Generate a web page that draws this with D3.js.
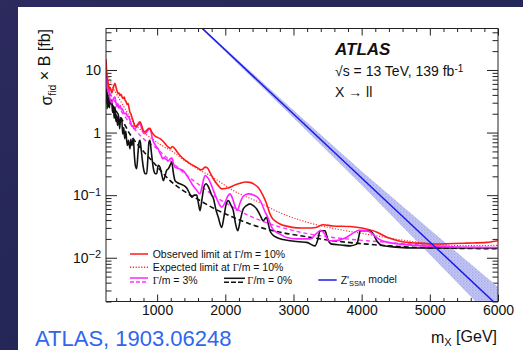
<!DOCTYPE html>
<html lang="en">
<head>
    <meta charset="UTF-8">
    <title>Dilepton resonance limits</title>
    <script src="https://d3js.org/d3.v7.min.js"></script>
    <style>
        body {
            margin: 0;
            padding: 0;
            background: #22244f;
            font-family: 'Liberation Sans', Arial, Helvetica, sans-serif;
        }
        svg { display: block; }
        .axis text { font-family: 'Liberation Sans', Arial, sans-serif; font-size: 14px; fill: #111; }
        .axis line { stroke: #222; }
    </style>
</head>
<body>
    <svg id="chart" width="523" height="350"></svg>

    <script>
        // ---- data: [mass in GeV, sigma x B in fb] ----
        const obs10 = [[250,14.9],[258,10],[265,8.2],[280,6.5],[295,5.0],[310,5.3],[334,4.3],[350,4.8],[365,5.6],[382,6.1],[395,5.4],[410,4.7],[426,4.2],[440,4.3],[455,3.9],[470,4.1],[490,3.6],[505,3.5],[518,3.7],[529,3.3],[545,3.1],[560,2.8],[575,2.9],[590,2.4],[602,2.1],[615,2.0],[630,1.75],[646,1.57],[660,1.4],[675,1.26],[690,1.25],[705,1.3],[725,1.4],[749,1.48],[770,1.32],[790,1.13],[805,1.05],[822,1.02],[840,1.07],[860,1.13],[880,1.17],[895,1.16],[915,1.05],[940,0.95],[970,0.88],[1000,0.84],[1042,0.80],[1080,0.74],[1120,0.66],[1160,0.59],[1195,0.56],[1225,0.6],[1255,0.56],[1300,0.48],[1336,0.43],[1400,0.37],[1440,0.345],[1482,0.32],[1550,0.29],[1600,0.27],[1640,0.255],[1670,0.26],[1702,0.28],[1735,0.275],[1780,0.225],[1824,0.183],[1890,0.145],[1947,0.126],[2000,0.128],[2069,0.134],[2140,0.145],[2216,0.155],[2300,0.162],[2360,0.16],[2420,0.15],[2484,0.132],[2550,0.100],[2607,0.0725],[2650,0.052],[2681,0.0442],[2740,0.038],[2802,0.0346],[2900,0.032],[3050,0.030],[3200,0.0298],[3330,0.0305],[3433,0.0337],[3580,0.0322],[3829,0.0315],[4020,0.0296],[4225,0.0256],[4372,0.0212],[4563,0.0184],[4812,0.0171],[5047,0.0166],[5546,0.0171],[5839,0.0176],[6000,0.0187]];

        const exp10 = [[250,9.5],[280,8.0],[309,6.9],[350,5.3],[400,4.2],[455,3.3],[550,2.2],[646,1.48],[760,1.1],[895,0.84],[1050,0.64],[1233,0.49],[1430,0.34],[1629,0.248],[1776,0.206],[1950,0.155],[2113,0.119],[2300,0.095],[2465,0.080],[2612,0.066],[2846,0.050],[3096,0.040],[3345,0.0335],[3580,0.0295],[4079,0.0237],[4563,0.0194],[5047,0.0166],[5546,0.0156],[6000,0.0158]];

        const obs3 = [[250,10.5],[256,6.5],[262,5.0],[270,6.8],[280,4.3],[292,5.6],[305,3.6],[320,3.2],[334,3.0],[350,3.3],[365,3.6],[382,3.7],[395,3.0],[410,2.6],[425,2.9],[440,2.5],[460,2.7],[475,2.3],[490,2.4],[510,2.1],[529,2.0],[545,2.05],[560,1.85],[580,1.8],[600,1.6],[615,1.4],[630,1.25],[645,1.3],[660,1.15],[680,1.17],[700,1.23],[725,1.33],[749,1.39],[770,1.2],[790,1.05],[805,0.97],[822,0.96],[840,1.0],[860,1.07],[880,1.14],[895,1.16],[915,0.98],[930,0.8],[960,0.67],[990,0.59],[1015,0.55],[1040,0.47],[1060,0.43],[1080,0.38],[1100,0.40],[1120,0.38],[1140,0.37],[1160,0.35],[1190,0.38],[1218,0.39],[1240,0.32],[1262,0.28],[1300,0.27],[1340,0.26],[1380,0.248],[1420,0.22],[1482,0.171],[1530,0.14],[1580,0.12],[1629,0.105],[1660,0.14],[1702,0.206],[1750,0.185],[1790,0.15],[1824,0.12],[1870,0.09],[1910,0.072],[1947,0.064],[1990,0.074],[2040,0.098],[2069,0.105],[2100,0.092],[2140,0.068],[2175,0.057],[2216,0.075],[2260,0.095],[2337,0.105],[2420,0.10],[2484,0.09],[2530,0.075],[2580,0.055],[2620,0.045],[2681,0.0305],[2740,0.026],[2802,0.0239],[2900,0.021],[3047,0.0200],[3250,0.0200],[3330,0.024],[3400,0.0275],[3460,0.024],[3520,0.0187],[3600,0.0187],[3750,0.0205],[3880,0.025],[3960,0.0275],[4080,0.027],[4160,0.024],[4220,0.021],[4300,0.0187],[4563,0.0165],[5047,0.0152],[5500,0.0147],[6000,0.0146]];

        const exp3 = [[250,7.0],[300,4.6],[400,2.9],[500,2.0],[650,1.2],[800,0.8],[1000,0.55],[1140,0.40],[1300,0.28],[1450,0.20],[1629,0.143],[1850,0.095],[2117,0.064],[2350,0.047],[2600,0.0364],[2850,0.030],[3100,0.0256],[3580,0.0211],[4080,0.0187],[4560,0.0170],[5050,0.0155],[5500,0.0148],[6000,0.0145]];

        const obs0 = [[250,6.0],[255,3.0],[260,5.4],[267,2.4],[275,4.2],[284,2.57],[292,3.6],[300,2.5],[310,3.4],[320,2.9],[334,3.3],[345,2.1],[358,2.6],[370,1.7],[382,2.57],[395,1.5],[407,1.9],[420,1.3],[435,1.9],[450,1.15],[465,1.7],[480,1.68],[495,0.95],[510,1.2],[525,0.8],[540,1.05],[553,0.75],[565,0.62],[580,0.75],[602,0.55],[615,0.78],[630,0.62],[651,0.8],[665,0.45],[680,0.30],[700,0.264],[718,0.45],[735,0.70],[749,0.75],[765,0.55],[785,0.35],[805,0.25],[825,0.22],[847,0.22],[865,0.4],[880,0.7],[895,0.75],[910,0.55],[930,0.35],[950,0.25],[975,0.22],[994,0.22],[1015,0.3],[1042,0.28],[1065,0.22],[1091,0.171],[1115,0.2],[1140,0.25],[1164,0.264],[1190,0.3],[1214,0.337],[1240,0.22],[1262,0.171],[1300,0.158],[1336,0.152],[1380,0.145],[1434,0.13],[1470,0.11],[1507,0.0925],[1545,0.10],[1580,0.10],[1605,0.075],[1629,0.0566],[1660,0.09],[1690,0.14],[1717,0.152],[1760,0.13],[1800,0.10],[1824,0.09],[1860,0.06],[1897,0.0442],[1947,0.0305],[1980,0.045],[2010,0.07],[2044,0.0818],[2080,0.07],[2117,0.0566],[2150,0.035],[2182,0.027],[2220,0.04],[2264,0.0602],[2310,0.068],[2362,0.0725],[2410,0.068],[2461,0.0602],[2510,0.048],[2558,0.039],[2590,0.043],[2607,0.0442],[2630,0.035],[2656,0.027],[2700,0.023],[2754,0.0211],[2850,0.0195],[2950,0.0187],[3080,0.018],[3194,0.0176],[3316,0.0155],[3360,0.02],[3389,0.027],[3462,0.027],[3500,0.02],[3561,0.0165],[3700,0.016],[3829,0.0155],[3927,0.0165],[3960,0.022],[3976,0.027],[4122,0.027],[4180,0.023],[4221,0.0187],[4318,0.0155],[4500,0.0148],[4807,0.0143],[5500,0.0143],[6000,0.0143]];

        const exp0 = [[250,5.0],[300,3.5],[400,2.2],[500,1.5],[600,0.95],[750,0.58],[950,0.33],[1190,0.171],[1400,0.115],[1629,0.082],[1850,0.060],[2117,0.0442],[2350,0.035],[2600,0.0288],[2850,0.025],[3100,0.0225],[3580,0.0187],[4080,0.0165],[4560,0.0151],[5050,0.0143],[5500,0.0141],[6000,0.0139]];

        // Z'SSM model prediction and its uncertainty band
        const zMass = [1500, 2000, 3000, 4000, 5000, 6000];
        const zModel = [67.6, 20.8, 1.98, 0.188, 0.0179, 0.0017];
        const zUp = [70, 22.1, 2.27, 0.242, 0.0283, 0.0034];
        const zDown = [65, 19.6, 1.73, 0.146, 0.0113, 0.00085];

        // axis ticks
        const xMajor = [1000, 2000, 3000, 4000, 5000, 6000];
        const yMajor = [10, 1, 0.1, 0.01];
        const yLabels = [["10", ""], ["1", ""], ["10", "\u22121"], ["10", "\u22122"]];

        const svg = d3.select("#chart");
        const W = 523, H = 350;
        const margin = {left: 106, top: 28.5, right: 25, bottom: 48.5};
        const width = W - margin.left - margin.right,
              height = H - margin.top - margin.bottom;

        const defs = svg.append("defs");
        const bg = defs.append("linearGradient").attr("id", "bg")
            .attr("x1", 0).attr("y1", 0).attr("x2", 1).attr("y2", 1);
        bg.append("stop").attr("offset", "0%").attr("stop-color", "#2c2a5e");
        bg.append("stop").attr("offset", "100%").attr("stop-color", "#1b2350");

        const hatch = defs.append("pattern").attr("id", "hatch")
            .attr("width", 3).attr("height", 3).attr("patternUnits", "userSpaceOnUse");
        hatch.append("rect").attr("width", 3).attr("height", 3).attr("fill", "#cfd1f5");
        hatch.append("rect").attr("width", 1.5).attr("height", 1.5).attr("fill", "#9a9fe8");
        hatch.append("rect").attr("x", 1.5).attr("y", 1.5).attr("width", 1.5).attr("height", 1.5).attr("fill", "#aeb2ec");

        defs.append("clipPath").attr("id", "plotClip")
            .append("rect").attr("width", width).attr("height", height);

        // background and white slide panel
        svg.append("rect").attr("width", W).attr("height", H).attr("fill", "url(#bg)");
        svg.append("rect").attr("x", 18).attr("y", 7).attr("width", W - 18).attr("height", H - 7).attr("fill", "#fff");

        const g = svg.append("g").attr("transform", `translate(${margin.left},${margin.top})`);

        const x = d3.scaleLinear().domain([250, 6000]).range([0, width]);
        const y = d3.scaleLog().domain([0.002, 46]).range([height, 0]);

        // minor ticks
        const xMinor = d3.range(400, 6000, 200).filter(v => v % 1000 !== 0);
        const yMinor = [];
        [0.001, 0.01, 0.1, 1, 10].forEach(dec => {
            for (let k = 2; k <= 9; k++) {
                const v = dec * k;
                if (v >= 0.002 && v <= 46) yMinor.push(v);
            }
        });

        function axisGroup(axis, tx, ty) {
            const a = g.append("g").attr("class", "axis")
                .attr("transform", `translate(${tx},${ty})`).call(axis);
            a.select(".domain").remove();
            return a;
        }

        // bottom / top
        axisGroup(d3.axisBottom(x).tickValues(xMajor).tickSize(-7).tickSizeOuter(0)
            .tickPadding(4).tickFormat(d3.format("d")), 0, height);
        axisGroup(d3.axisBottom(x).tickValues(xMinor).tickSize(-3.5).tickFormat(""), 0, height);
        axisGroup(d3.axisTop(x).tickValues(xMajor).tickSize(-7).tickFormat(""), 0, 0);
        axisGroup(d3.axisTop(x).tickValues(xMinor).tickSize(-3.5).tickFormat(""), 0, 0);

        // left / right
        const yAx = axisGroup(d3.axisLeft(y).tickValues(yMajor).tickSize(-11).tickPadding(5)
            .tickFormat((d, i) => yLabels[i][0]), 0, 0);
        yAx.selectAll(".tick text").each(function(d, i) {
            const t = d3.select(this);
            const lab = yLabels[i];
            t.text(null);
            t.append("tspan").text(lab[0]);
            if (lab[1]) t.append("tspan").attr("dy", "-0.42em").attr("font-size", "11px").text(lab[1]);
        });
        axisGroup(d3.axisLeft(y).tickValues(yMinor).tickSize(-5.5).tickFormat(""), 0, 0);
        axisGroup(d3.axisRight(y).tickValues(yMajor).tickSize(-11).tickFormat(""), width, 0);
        axisGroup(d3.axisRight(y).tickValues(yMinor).tickSize(-5.5).tickFormat(""), width, 0);

        // curves
        const plot = g.append("g").attr("clip-path", "url(#plotClip)");
        const line = d3.line().x(d => x(d[0])).y(d => y(d[1])).curve(d3.curveMonotoneX);

        const zPts = zMass.map((m, i) => ({m: m, c: zModel[i], lo: zDown[i], hi: zUp[i]}));
        plot.append("path").datum(zPts)
            .attr("d", d3.area().x(d => x(d.m)).y0(d => y(d.lo)).y1(d => y(d.hi)))
            .attr("fill", "url(#hatch)");

        const series = [
            {data: exp10, color: "#ff2a2a", width: 1.1, dash: "1.2,1.6"},
            {data: exp3, color: "#ff33ff", width: 1.4, dash: "4,3"},
            {data: exp0, color: "#111", width: 1.6, dash: "5,3"},
            {data: obs0, color: "#111", width: 1.6, dash: null},
            {data: obs3, color: "#ff22ff", width: 1.6, dash: null},
            {data: obs10, color: "#ff1a1a", width: 1.6, dash: null}
        ];
        series.forEach(s => {
            plot.append("path").datum(s.data)
                .attr("d", line)
                .attr("fill", "none")
                .attr("stroke", s.color)
                .attr("stroke-width", s.width)
                .attr("stroke-dasharray", s.dash);
        });

        plot.append("path").datum(zPts)
            .attr("d", d3.line().x(d => x(d.m)).y(d => y(d.c)))
            .attr("fill", "none").attr("stroke", "#1a1aee").attr("stroke-width", 1.5);

        // frame
        g.append("rect").attr("width", width).attr("height", height)
            .attr("fill", "none").attr("stroke", "#222").attr("stroke-width", 1);

        // ATLAS label
        const lab = svg.append("g").attr("font-family", "'Liberation Sans', Arial, sans-serif").attr("fill", "#111");
        lab.append("text").attr("x", 335).attr("y", 55).attr("font-size", 17)
            .attr("font-weight", "bold").attr("font-style", "italic").text("ATLAS");
        const en = lab.append("text").attr("x", 335).attr("y", 76).attr("font-size", 14);
        en.append("tspan").text("\u221As = 13 TeV, 139 fb");
        en.append("tspan").attr("dy", "-0.45em").attr("font-size", 10).text("-1");
        lab.append("text").attr("x", 335).attr("y", 97).attr("font-size", 14).text("X \u2192 ll");

        // axis titles
        const yt = svg.append("text").attr("transform", "translate(52,29) rotate(-90)")
            .attr("text-anchor", "end").attr("font-size", 16).attr("fill", "#111");
        yt.append("tspan").text("\u03c3");
        yt.append("tspan").attr("dy", "0.35em").attr("font-size", 10.5).text("fid");
        yt.append("tspan").attr("dy", "-0.35em").text(" \u00d7 B [fb]");

        const xt = svg.append("text").attr("x", 497).attr("y", 343)
            .attr("text-anchor", "end").attr("font-size", 16).attr("fill", "#111");
        xt.append("tspan").text("m");
        xt.append("tspan").attr("dy", "0.3em").attr("font-size", 11).text("X");
        xt.append("tspan").attr("dy", "-0.3em").text(" [GeV]");

        // reference
        svg.append("text").attr("x", 35).attr("y", 346).attr("font-size", 22)
            .attr("fill", "#2f66ee").text("ATLAS, 1903.06248");

        // legend
        const leg = svg.append("g").attr("font-size", 10.5).attr("fill", "#111");
        function legLine(x1, x2, yy, color, dash) {
            leg.append("line").attr("x1", x1).attr("x2", x2).attr("y1", yy).attr("y2", yy)
                .attr("stroke", color).attr("stroke-width", 1.5).attr("stroke-dasharray", dash);
        }
        function legText(xx, yy, parts) {
            const t = leg.append("text").attr("x", xx).attr("y", yy).attr("dy", "0.35em");
            parts.forEach(p => {
                const ts = t.append("tspan").text(p.t);
                if (p.serif) ts.attr("font-family", "'Liberation Serif', serif");
                if (p.sub) ts.attr("font-size", 7.5).attr("dy", p.dy);
                if (p.dy && !p.sub) ts.attr("dy", p.dy);
            });
        }
        legLine(130, 148, 254, "#ff1a1a", null);
        legText(152.7, 254, [{t: "Observed limit at "}, {t: "\u0393", serif: true}, {t: "/m = 10%"}]);
        legLine(130, 148, 267.3, "#ff2a2a", "1.2,1.6");
        legText(152.7, 267.3, [{t: "Expected limit at "}, {t: "\u0393", serif: true}, {t: "/m = 10%"}]);
        legLine(130, 148, 278, "#ff22ff", null);
        legLine(130, 148, 282, "#ff33ff", "4,2");
        legText(152.7, 280, [{t: "\u0393", serif: true}, {t: "/m = 3%"}]);
        legLine(224, 245, 278.3, "#111", null);
        legLine(224, 245, 282.3, "#111", "5,2");
        legText(247.3, 280, [{t: "\u0393", serif: true}, {t: "/m = 0%"}]);
        legLine(318.3, 336.7, 280, "#1a1aee", null);
        legText(340.7, 280, [{t: "Z'"}, {t: "SSM", sub: true, dy: "0.35em"}, {t: " model", dy: "-0.35em"}]);
    </script>
</body>
</html>
